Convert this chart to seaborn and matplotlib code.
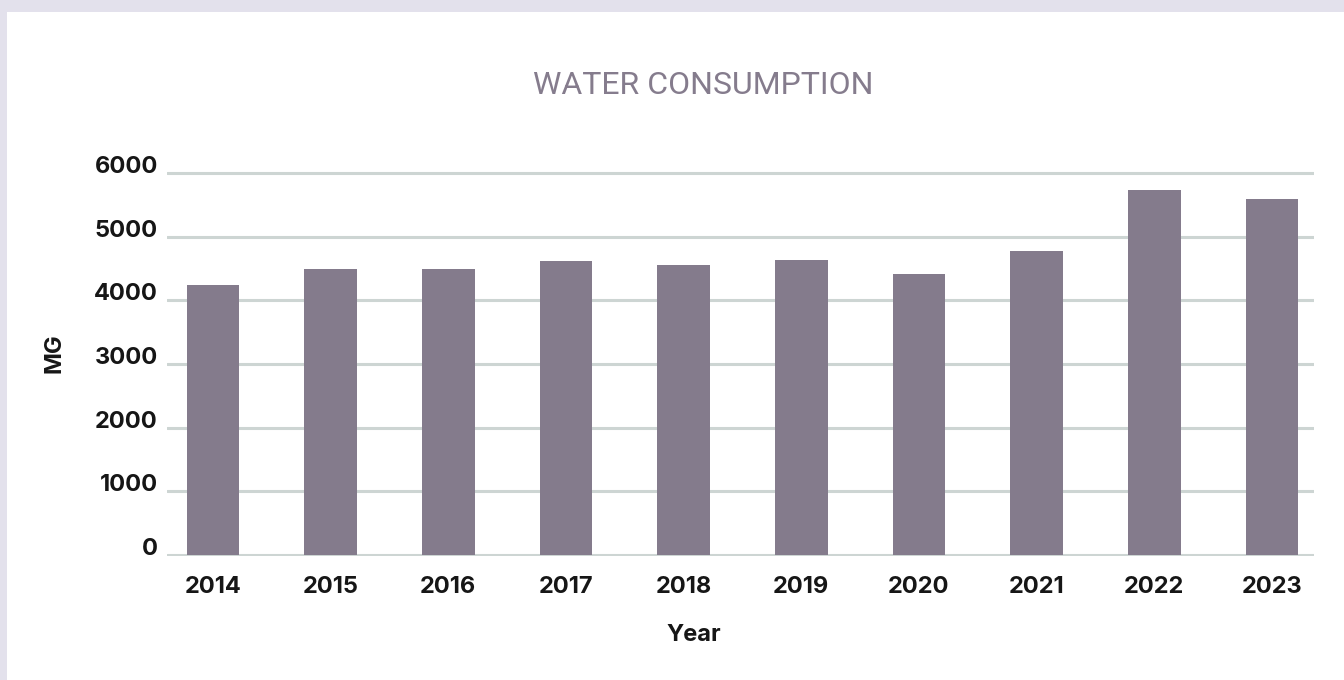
import matplotlib
matplotlib.use("Agg")
import matplotlib.pyplot as plt
from matplotlib.patches import Rectangle
import seaborn as sns
import pandas as pd

years = ["2014", "2015", "2016", "2017", "2018", "2019", "2020", "2021", "2022", "2023"]
consumption_mg = [4240, 4490, 4490, 4620, 4560, 4630, 4410, 4770, 5730, 5590]
y_ticks = [0, 1000, 2000, 3000, 4000, 5000, 6000]

title_text = "WATER CONSUMPTION"
x_label = "Year"
y_label = "MG"

BAR = "#847B8C"
GRID = "#CDD5D3"
FRAME = "#E3E1EC"
INK = "#161616"

sns.set_theme(style="white")
plt.rcParams["font.family"] = ["Inter", "DejaVu Sans"]

W, H = 1344, 680
fig = plt.figure(figsize=(W / 100, H / 100), dpi=100, facecolor=FRAME)
# white card inside the lavender frame, kept beneath the axes
fig.patches.append(Rectangle((7 / W, 0), 1 - 7 / W, 1 - 12 / H,
                             transform=fig.transFigure, facecolor="white",
                             edgecolor="none", zorder=-10))

ymin, ymax = -20, 6030
px_per_unit = (555 - 173) / 6000
bot_px = 555 + (0 - ymin) * px_per_unit
top_px = 173 - (ymax - 6000) * px_per_unit
left_px, right_px = 167, 1314
ax = fig.add_axes([left_px / W, 1 - bot_px / H,
                   (right_px - left_px) / W, (bot_px - top_px) / H])
ax.set_zorder(2)
ax.set_facecolor("none")

df = pd.DataFrame({"Year": years, "MG": consumption_mg})
sns.barplot(data=df, x="Year", y="MG", order=years, color=BAR,
            saturation=1, width=0.45, linewidth=0, edgecolor="none",
            ax=ax, zorder=3)

ax.set_xlim(-0.391, 9.357)
ax.set_ylim(ymin, ymax)
ax.set_yticks(y_ticks)
ax.set_yticklabels([str(t) for t in y_ticks])
for t in y_ticks:
    ax.axhline(t, color=GRID, lw=2.2, zorder=1)

for s in ax.spines.values():
    s.set_visible(False)
ax.tick_params(axis="both", length=0, colors=INK)
ax.tick_params(axis="y", pad=6.5, labelsize=17)
ax.tick_params(axis="x", pad=14, labelsize=17)
for lab in ax.get_yticklabels():
    lab.set_fontweight("bold")
    lab.set_verticalalignment("baseline")
for lab in ax.get_xticklabels():
    lab.set_fontweight("bold")
ax.set_xlabel("")
ax.set_ylabel("")

fig.text(694 / W, 1 - 635 / H, x_label, ha="center", va="center",
         fontsize=17, fontweight="bold", color=INK)
fig.text(55 / W, 1 - 353 / H, y_label, ha="center", va="center",
         rotation=90, fontsize=17, fontweight="bold", color=INK)
fig.text(703 / W, 1 - 86 / H, title_text, ha="center", va="center",
         fontsize=23, fontweight="normal", color="#857C8D",
         family=["Roboto", "DejaVu Sans"])

fig.savefig("out.png", dpi=100, facecolor=FRAME)
